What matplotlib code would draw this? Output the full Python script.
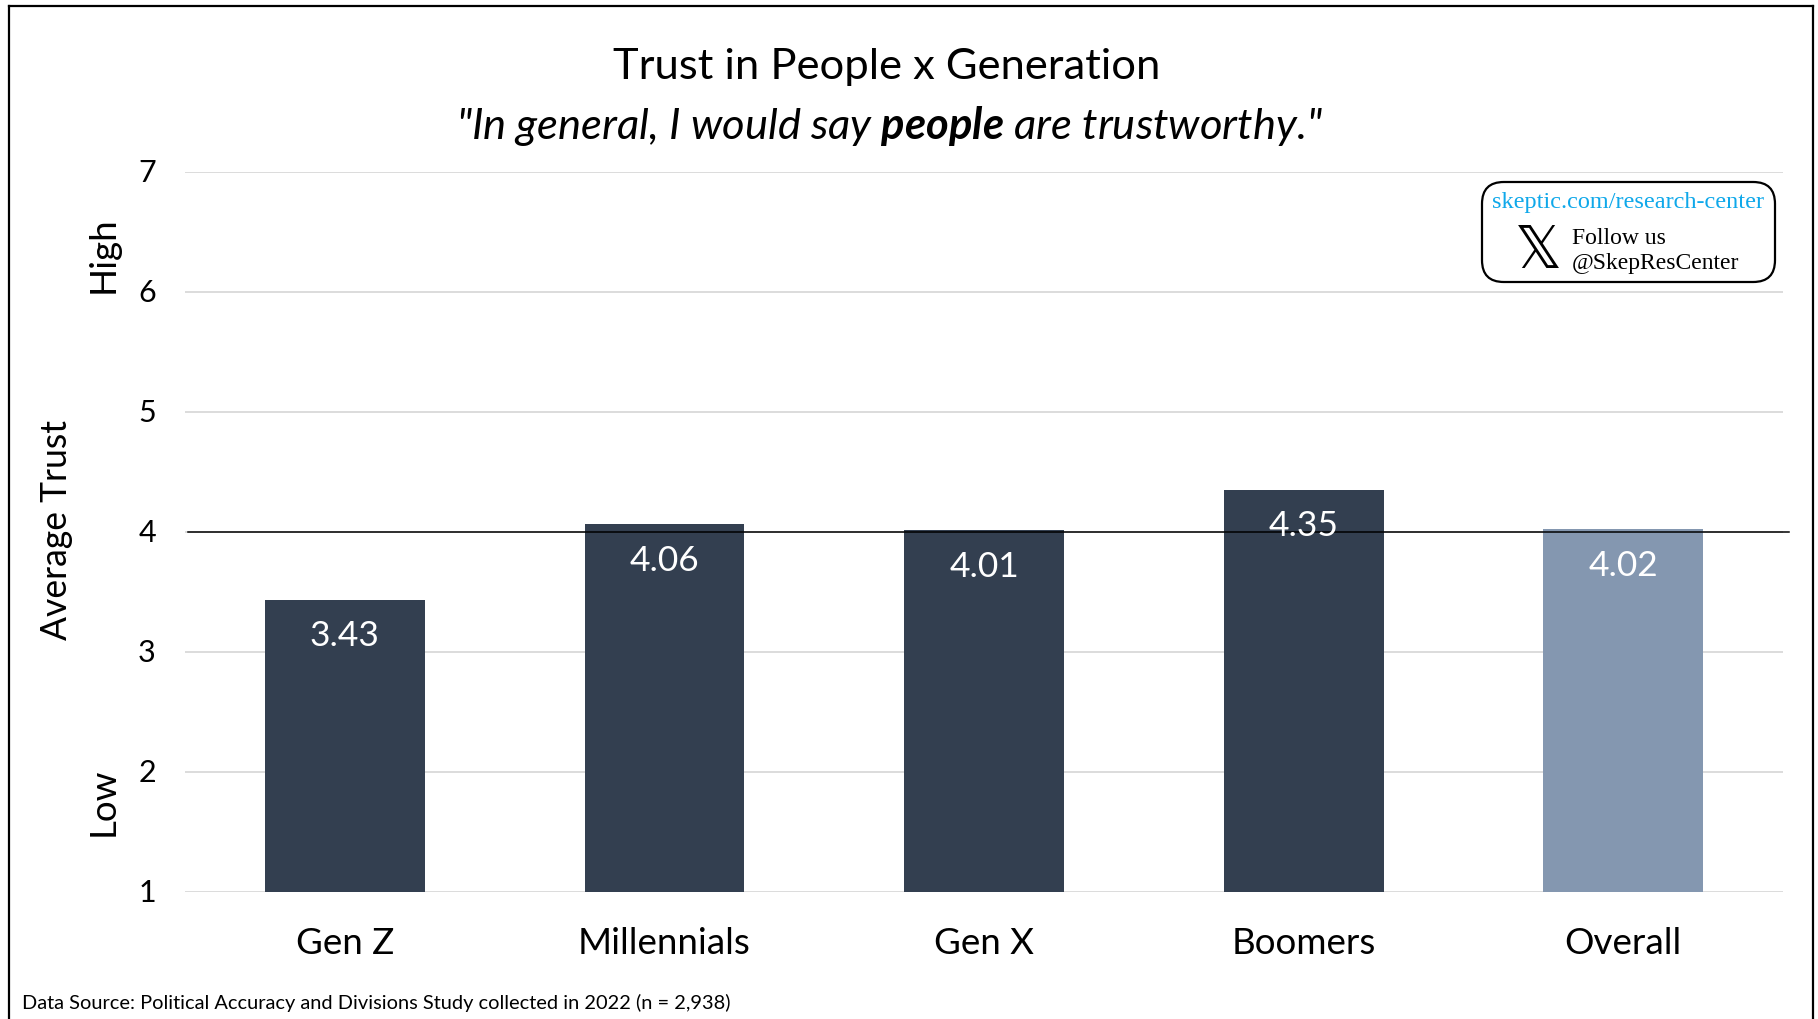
import matplotlib.pyplot as plt
from matplotlib.patches import FancyBboxPatch
from matplotlib.transforms import ScaledTranslation

groups = ['Gen Z', 'Millennials', 'Gen X', 'Boomers', 'Overall']
trust = [3.43, 4.06, 4.01, 4.35, 4.02]
bar_colors = ['#333f50', '#333f50', '#333f50', '#333f50', '#8497b0']
y_ticks = [1, 2, 3, 4, 5, 6, 7]

W, H = 1818, 1020
plt.rcParams['font.family'] = ['Lato', 'DejaVu Sans']
plt.rcParams['mathtext.fontset'] = 'custom'
plt.rcParams['mathtext.bfit'] = 'Lato:italic:bold'

fig = plt.figure(figsize=(W / 100, H / 100), dpi=100)
ax = fig.add_axes([185 / W, 1 - 892.5 / H, (1783 - 185) / W, (892.5 - 172.5) / H])


def fx(px):
    return px / W


def fy(py):
    return 1 - py / H


# outer border, open at the bottom
for xs, ys in [([8.5, 8.5], [1020, 7]), ([8.5, 1813], [7, 7]), ([1813, 1813], [7, 1020])]:
    fig.add_artist(plt.Line2D([fx(v) for v in xs], [fy(v) for v in ys], color='black', lw=1.6))

xpos = list(range(len(groups)))
ax.bar(xpos, trust, width=0.5, bottom=0, color=bar_colors, zorder=2)
ax.set_xlim(-0.5, 4.5)
ax.set_ylim(1, 7)
ax.set_xticks(xpos)
ax.set_xticklabels(groups, fontsize=26.5)
ax.set_yticks(y_ticks)
ax.tick_params(axis='y', labelsize=22, length=0, pad=21)
ax.tick_params(axis='x', length=0, pad=25)
ax.grid(axis='y', color='#d9d9d9', lw=1.3, zorder=0)
for s in ax.spines.values():
    s.set_visible(False)

# nudge y labels up a touch
up = ScaledTranslation(0, 2 / 100, fig.dpi_scale_trans)
for lab in ax.get_yticklabels():
    lab.set_transform(lab.get_transform() + up)

for x, v in zip(xpos, trust):
    ax.text(x, v - 0.295, '%.2f' % v, color='white', fontsize=25.5, ha='center', va='center', zorder=4)

# reference line at the scale midpoint, runs a little past the gridlines
ax.plot([-0.49, 4.52], [4, 4], color='black', lw=1.1, zorder=3, clip_on=False)

fig.text(fx(887), fy(67), 'Trust in People x Generation', fontsize=31.3, ha='center', va='center')
fig.text(fx(889), fy(126), '"In general, I would say $\\mathbfit{people}$ are trustworthy."', fontsize=31.3,
         style='italic', ha='center', va='center')

fig.text(fx(57), fy(530), 'Average Trust', fontsize=25.6, rotation=90, ha='center', va='center')
fig.text(fx(103), fy(255), 'High', fontsize=26.5, rotation=90, ha='center', va='center')
fig.text(fx(103), fy(802), 'Low', fontsize=26.5, rotation=90, ha='center', va='center')

fig.text(fx(22), fy(1003), 'Data Source: Political Accuracy and Divisions Study collected in 2022 (n = 2,938)',
         fontsize=14.4, ha='left', va='center')

# follow-us badge
badge = FancyBboxPatch((fx(1482), fy(283)), (1775 - 1482) / W, (283 - 183) / H,
                       boxstyle='round,pad=0,rounding_size=0.012', mutation_aspect=W / H,
                       transform=fig.transFigure, facecolor='white', edgecolor='black', lw=1.6, zorder=5)
fig.add_artist(badge)
fig.text(fx(1628), fy(203), 'skeptic.com/research-center', family='Liberation Serif', color='#0fa8ea',
         fontsize=17.5, ha='center', va='center', zorder=6)
fig.text(fx(1572), fy(238), 'Follow us', family='Liberation Serif', fontsize=17, ha='left', va='center', zorder=6)
fig.text(fx(1572), fy(264), '@SkepResCenter', family='Liberation Serif', fontsize=17, ha='left', va='center', zorder=6)
fig.text(fx(1538), fy(252), '\U0001D54F', family='DejaVu Sans', fontsize=42, ha='center', va='center', zorder=6)

fig.savefig('out.png', dpi=100)
